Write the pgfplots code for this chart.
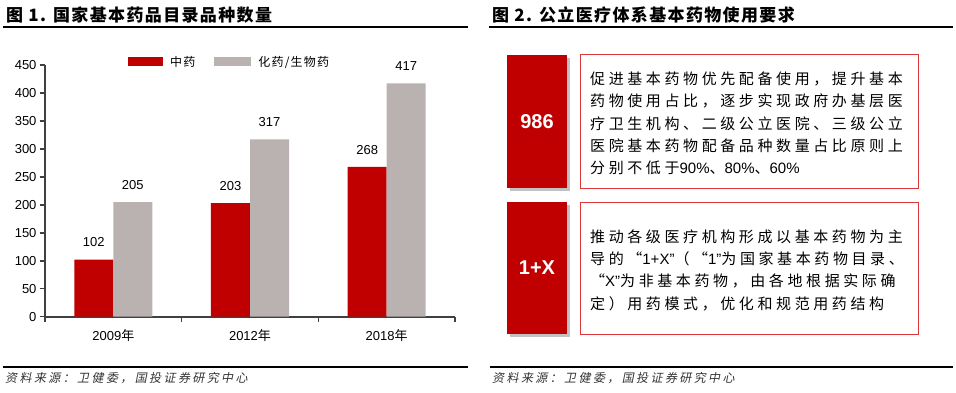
\documentclass[border=0pt]{standalone}
\usepackage{fontspec}
\usepackage{pgfplots}
\pgfplotsset{compat=1.18}
\usetikzlibrary{shadows}
\setmainfont{Liberation Sans}
\newfontfamily\cjk{Noto Sans CJK SC}
\newfontfamily\cjkl[LetterSpace=10]{Noto Sans CJK SC}
\newfontfamily\cjkt[LetterSpace=8]{Noto Sans CJK SC}
\newfontfamily\cjksp[LetterSpace=24]{Noto Sans CJK SC}
\newfontfamily\cjkit[FakeSlant=0.2,LetterSpace=20]{Noto Sans CJK SC}
\definecolor{cred}{RGB}{192,0,0}
\definecolor{cgrey}{RGB}{186,178,177}
\definecolor{caxis}{RGB}{64,64,64}
\definecolor{cborder}{RGB}{218,56,59}
\begin{document}
\begin{tikzpicture}
\useasboundingbox (0,0) rectangle (956pt,-393pt);
\begin{axis}[
  at={(45pt,-316.7pt)}, anchor=south west,
  scale only axis, width=410pt, height=251.7pt,
  xmin=-0.5, xmax=2.5, ymin=0, ymax=450,
  clip=false,
  axis lines*=left,
  axis line style={draw=caxis, line width=1.8pt},
  ytick={0,50,...,450},
  xtick={-0.5,0.5,1.5,2.5}, xticklabels={},
  extra x ticks={0,1,2},
  extra x tick labels={{2009{\cjk 年}},{2012{\cjk 年}},{2018{\cjk 年}}},
  extra x tick style={major tick length=0pt, xticklabel style={yshift=-9pt}},
  tick align=outside,
  major tick length=5pt,
  tick style={draw=caxis, line width=1.5pt},
  ticklabel style={font=\fontsize{13}{15}\selectfont, text=black},
  /pgf/number format/assume math mode=true,
  ybar=0pt, bar width=39pt,
  nodes near coords,
  every node near coord/.append style={font=\fontsize{13}{15}\selectfont, text=black, yshift=9pt},
  legend columns=2,
  legend style={at={(rel axis cs:0.195,1.012)}, anchor=west, draw=none, fill=none,
    font=\cjkl\fontsize{12}{14}\selectfont, nodes={inner sep=1pt},
    /tikz/every odd column/.append style={column sep=6pt},
    /tikz/every even column/.append style={column sep=18pt}},
]
\addplot[fill=cred, draw=none, legend image code/.code={\fill[cred] (0pt,-4.5pt) rectangle (35pt,4.5pt);}] coordinates {(0,102) (1,203) (2,268)};
\addplot[fill=cgrey, draw=none, legend image code/.code={\fill[cgrey] (0pt,-4.5pt) rectangle (37pt,4.5pt);}] coordinates {(0,205) (1,317) (2,417)};
\legend{中药,化药/生物药}
\end{axis}
\begin{scope}[x=1pt,y=-1pt]
\node[anchor=west, inner sep=0] at (6,14.5) {\cjkt\bfseries\fontsize{17}{19}\selectfont 图 1. 国家基本药品目录品种数量};
\draw[line width=1.5pt] (3,27) -- (468,27);
\node[anchor=west, inner sep=0] at (492,14.5) {\cjkt\bfseries\fontsize{17}{19}\selectfont 图 2. 公立医疗体系基本药物使用要求};
\draw[line width=1.5pt] (489,27) -- (953,27);
% box 1
\path[fill=cred, drop shadow={shadow xshift=3pt, shadow yshift=-3pt, fill=black!40, opacity=0.6}] (507,55) rectangle (567,188);
\node[text=white, font=\bfseries\fontsize{20}{24}\selectfont] at (537,122) {986};
\draw[cborder, line width=1pt] (580,55) rectangle (918,188);
\node[anchor=west, align=left, inner sep=0, font=\cjksp\fontsize{15}{22.3}\selectfont] at (590,123.5) {促进基本药物优先配备使用，提升基本\\药物使用占比，逐步实现政府办基层医\\疗卫生机构、二级公立医院、三级公立\\医院基本药物配备品种数量占比原则上\\分别不低于{\rmfamily 90\%}、{\rmfamily 80\%}、{\rmfamily 60\%}};
% box 2
\path[fill=cred, drop shadow={shadow xshift=3pt, shadow yshift=-3pt, fill=black!40, opacity=0.6}] (507,202) rectangle (567,334);
\node[text=white, font=\bfseries\fontsize{20}{24}\selectfont] at (537,268) {1+X};
\draw[cborder, line width=1pt] (580,202) rectangle (918,334);
\node[anchor=west, align=left, inner sep=0, font=\cjksp\fontsize{15}{22.3}\selectfont] at (590,270) {推动各级医疗机构形成以基本药物为主\\导的“{\rmfamily 1+X”}（“{\rmfamily 1”}为国家基本药物目录、\\“{\rmfamily X”}为非基本药物，由各地根据实际确\\定）用药模式，优化和规范用药结构};
% sources
\draw[line width=1.2pt] (3,367) -- (468,367);
\node[anchor=west, inner sep=0, text=black!80, font=\cjkit\fontsize{12}{14}\selectfont] at (5,378) {资料来源：卫健委，国投证券研究中心};
\draw[line width=1.2pt] (490,367) -- (953,367);
\node[anchor=west, inner sep=0, text=black!80, font=\cjkit\fontsize{12}{14}\selectfont] at (492,378) {资料来源：卫健委，国投证券研究中心};
\end{scope}
\end{tikzpicture}
\end{document}
